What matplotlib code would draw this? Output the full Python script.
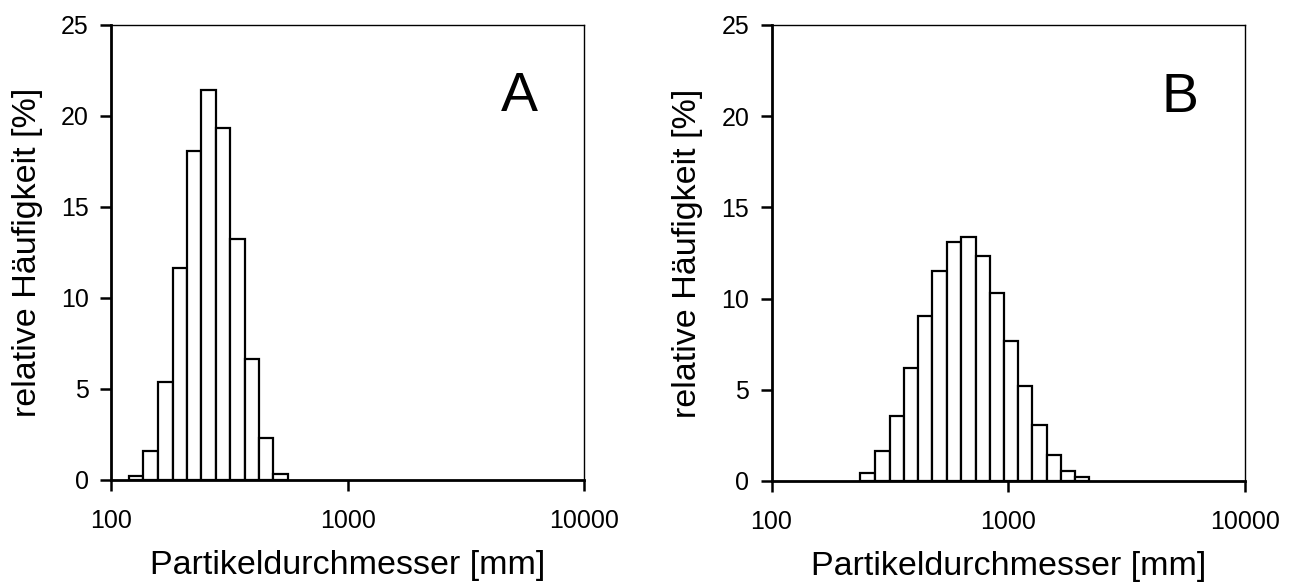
import numpy as np
import matplotlib
matplotlib.use("Agg")
import matplotlib.pyplot as plt
from matplotlib.ticker import FixedLocator, FixedFormatter, NullLocator

plt.rcParams['font.family'] = ['Liberation Sans', 'DejaVu Sans']

# bin edges (mm) and relative frequencies (%)
edges_a = [119, 137, 158, 182, 209, 240, 277, 319, 367, 422, 484, 558]
freq_a = [0.22, 1.61, 5.36, 11.63, 18.1, 21.43, 19.36, 13.23, 6.64, 2.29, 0.33]

edges_b = [237, 274, 315, 362, 416, 478, 549, 631, 728, 834, 959, 1099,
           1263, 1451, 1668, 1917, 2197]
freq_b = [0.42, 1.62, 3.59, 6.19, 9.03, 11.53, 13.12, 13.39, 12.35, 10.29,
          7.68, 5.2, 3.05, 1.42, 0.53, 0.24]

panels = [("A", edges_a, freq_a), ("B", edges_b, freq_b)]
x_ticks = [100, 1000, 10000]
y_ticks = [0, 5, 10, 15, 20, 25]

fig = plt.figure(figsize=(12.9, 5.88), dpi=100)
ax_pos = [[0.0860, 0.1837, 0.3670, 0.7738],
          [0.5981, 0.1820, 0.3670, 0.7755]]

for pos, (name, edges, freq) in zip(ax_pos, panels):
    ax = fig.add_axes(pos)
    left = np.array(edges[:-1])
    width = np.diff(edges)
    ax.bar(left, freq, width=width, align='edge', facecolor='white',
           edgecolor='black', linewidth=1.6, zorder=2)
    ax.set_xscale('log')
    ax.set_xlim(100, 10000)
    ax.set_ylim(0, 25)
    ax.xaxis.set_major_locator(FixedLocator(x_ticks))
    ax.xaxis.set_major_formatter(FixedFormatter([str(t) for t in x_ticks]))
    ax.xaxis.set_minor_locator(NullLocator())
    ax.set_yticks(y_ticks)
    ax.tick_params(axis='x', direction='out', length=8, width=1.8, pad=13,
                   labelsize=18)
    ax.tick_params(axis='y', direction='out', length=8, width=1.8, pad=8,
                   labelsize=18)
    for s in ['left', 'bottom']:
        ax.spines[s].set_linewidth(2.0)
        ax.spines[s].set_zorder(3)
    for s in ['top', 'right']:
        ax.spines[s].set_linewidth(1.0)
    ax.set_xlabel("Partikeldurchmesser [mm]", fontsize=24.5, labelpad=12)
    ax.set_ylabel("relative Häufigkeit [%]", fontsize=24.5, labelpad=13)
    ax.text(0.862, 0.81, name, transform=ax.transAxes, ha='center',
            va='baseline', fontsize=40)

fig.savefig("out.png", dpi=100)
